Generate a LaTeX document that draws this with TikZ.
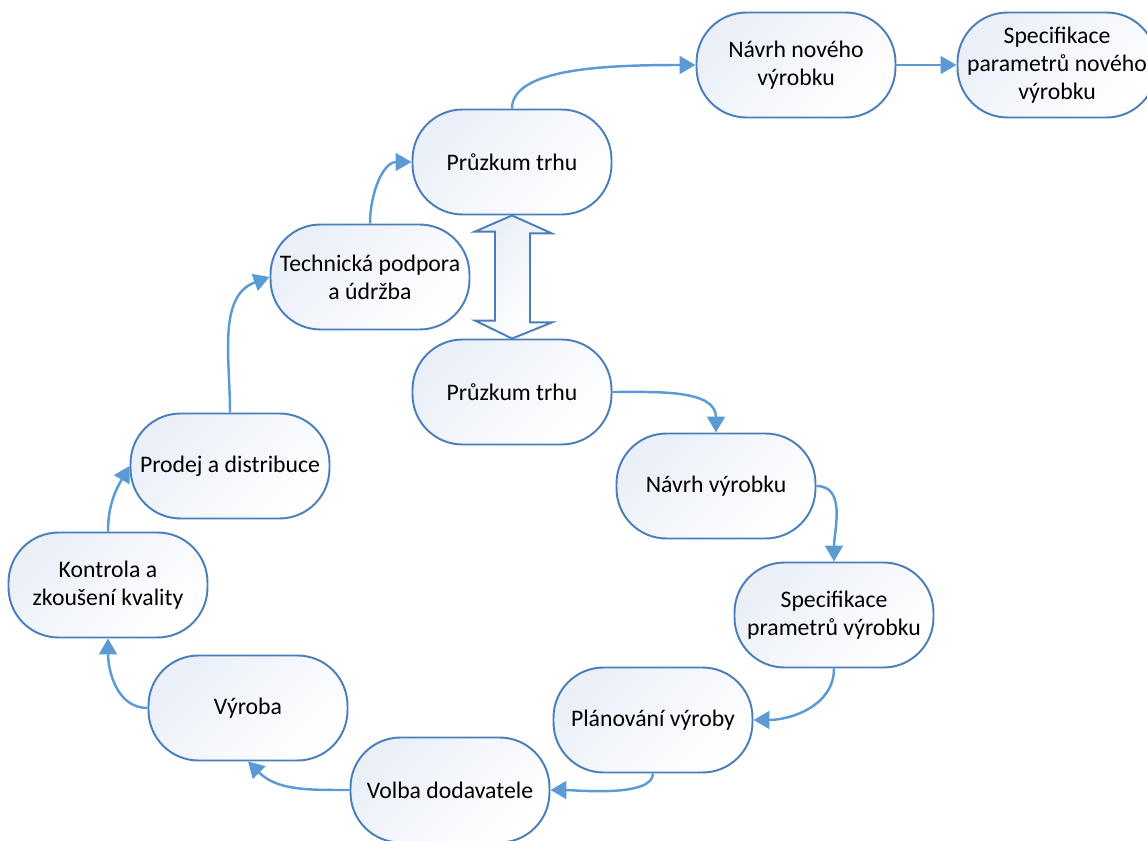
\documentclass[tikz,border=0pt]{standalone}
\usepackage{fontspec}
\setmainfont{Carlito}
\usetikzlibrary{arrows.meta}

\definecolor{boxline}{RGB}{74,126,187}
\definecolor{flowline}{RGB}{91,155,213}
\definecolor{boxfill}{RGB}{234,239,248}

\begin{document}
\begin{tikzpicture}[x=0.02cm,y=-0.02cm,->,>={Triangle[length=9pt,width=10pt]},
  color=flowline,line width=1.4pt,
  stage node/.style={rectangle,rounded corners=1cm,draw=boxline,line width=1.1pt,
    top color=boxfill,bottom color=white,shading angle=45,text=black,
    minimum width=3.98cm,minimum height=2.1cm,align=center,
    font=\fontsize{13.5}{16}\selectfont},
  block arrow/.style={-,draw=boxline,line width=1.1pt,
    top color=boxfill,bottom color=white,shading angle=45}]

  \useasboundingbox (0,0) rectangle (1147,841);

  \node[stage node] (PT1)  at (512,162)  {Průzkum trhu};
  \node[stage node] (NNV)  at (796,65)   {Návrh nového\\výrobku};
  \node[stage node] (SPNV) at (1057,65)  {Specifikace\\parametrů nového\\výrobku};
  \node[stage node] (TPU)  at (370,277)  {Technická podpora\\a údržba};
  \node[stage node] (PT2)  at (512,392)  {Průzkum trhu};
  \node[stage node] (NV)   at (716,486)  {Návrh výrobku};
  \node[stage node] (SPV)  at (834,615)  {Specifikace\\prametrů výrobku};
  \node[stage node] (PV)   at (653,720)  {Plánování výroby};
  \node[stage node] (VD)   at (450,790)  {Volba dodavatele};
  \node[stage node] (V)    at (248,708)  {Výroba};
  \node[stage node] (KZK)  at (108,585)  {Kontrola a\\zkoušení kvality};
  \node[stage node] (PD)   at (230,466)  {Prodej a distribuce};

  % two-way block arrow between the two market surveys
  \draw[block arrow] (PT1.south) -- ++(40,18) -- ++(-22,0) -- ++(0,89) -- ++(22,0)
    -- (PT2.north) -- ++(-37,-18) -- ++(20,0) -- ++(0,-89) -- ++(-20,0) -- cycle;

  \path
    (PT1.north) edge [out=90,in=180,out looseness=0.55,in looseness=1.2] (NNV.west)
    (NNV.east)  edge (SPNV.west)
    (TPU.north) edge [out=90,in=180] (PT1.west)
    (PD.north)  edge [out=90,in=200] (TPU.west)
    (KZK.north) edge [out=90,in=240] (PD.west)
    (V.west)    edge [out=180,in=270] (KZK.south)
    (VD.west)   edge [out=180,in=315] (V.south)
    (PV.south)  edge [out=270,in=0,looseness=0.6] (VD.east)
    (SPV.south) edge [out=270,in=0] (PV.east)
    (NV.east)   edge [out=0,in=90] (SPV.north)
    (PT2.east)  edge [out=0,in=90] (NV.north);
\end{tikzpicture}
\end{document}
